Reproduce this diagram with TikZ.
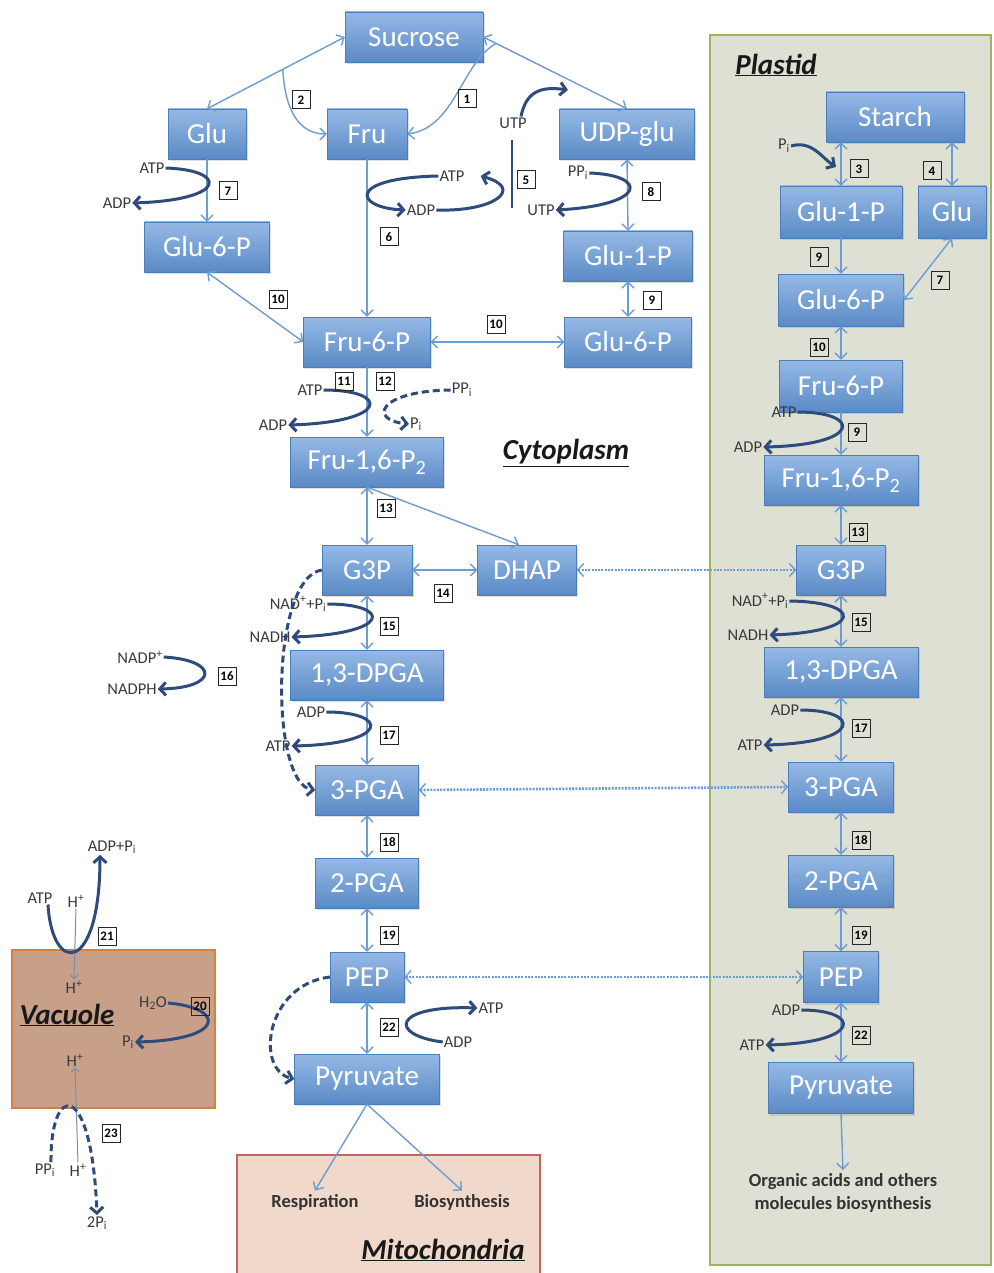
\documentclass[tikz,border=0pt]{standalone}
\usepackage{fontspec}
\setmainfont{Carlito}
\usetikzlibrary{arrows.meta, calc, shadows}
\definecolor{boxtop}{HTML}{95B9E5}
\definecolor{boxbot}{HTML}{5A8AC6}
\definecolor{boxline}{HTML}{4A7EBB}
\definecolor{flowblue}{HTML}{6C9CD3}
\definecolor{navy}{HTML}{2E4B7B}
\definecolor{labgrey}{HTML}{3A3A3A}
\definecolor{plastidfill}{HTML}{DDE0D3}
\definecolor{plastidline}{HTML}{9BB65E}
\definecolor{vacfill}{HTML}{C8A08A}
\definecolor{vacline}{HTML}{D4803E}
\definecolor{mitofill}{HTML}{F0D8CB}
\definecolor{mitoline}{HTML}{C06560}
\definecolor{hgrey}{HTML}{7A8FAE}

\tikzset{
  met/.style={draw=boxline, top color=boxtop, bottom color=boxbot, text=white,
    font=\fontsize{29}{32}\selectfont, minimum height=50pt, inner sep=0pt,
    drop shadow={opacity=0.25, shadow xshift=1.5pt, shadow yshift=-2pt}},
  lab/.style={font=\fontsize{16.5}{18}\selectfont, text=labgrey, inner sep=1pt},
  num/.style={draw=black!85, line width=1pt, font=\fontsize{13}{14}\selectfont\bfseries,
    minimum size=18pt, inner sep=0pt},
  flow/.style={draw=flowblue, line width=1.4pt},
  fwd/.style={flow, -{Straight Barb[length=6pt,width=12pt]}},
  both/.style={flow, {Straight Barb[length=6pt,width=12pt]}-{Straight Barb[length=6pt,width=12pt]}},
  share/.style={flow, line width=2.6pt, dash pattern=on 2pt off 1.3pt,
    {Straight Barb[length=6pt,width=13pt,line width=1.4pt]}-{Straight Barb[length=6pt,width=13pt,line width=1.4pt]}},
  cof/.style={draw=navy, line width=3pt, -{Straight Barb[length=6pt,width=13pt]}},
  cofd/.style={cof, dash pattern=on 7pt off 4pt},
  hplus/.style={draw=hgrey, line width=1pt, -{Straight Barb[length=4pt,width=8pt]}},
  region/.style={font=\fontsize{29}{32}\selectfont\bfseries\itshape, text=black!90},
  sink/.style={font=\fontsize{18.5}{23}\selectfont\bfseries, text=black!80, align=center}
}

\begin{document}
\begin{tikzpicture}[x=1pt, y=-1pt]
  \useasboundingbox (0,0) rectangle (993,1273);

  % compartments
  \draw[draw=plastidline, fill=plastidfill, line width=2pt] (710,35) rectangle (991,1265);
  \draw[draw=vacline, fill=vacfill, line width=1.5pt] (12,950) rectangle (215,1108);
  \draw[draw=mitoline, fill=mitofill, line width=1.2pt] (237,1155) rectangle (540,1280);

  \node[region] (plast) at (776,65) {\underline{Plastid}};
  \node[region] (cyto) at (566,453) {\underline{Cytoplasm}};
  \node[region] (vac) at (67,1015) {\underline{Vacuole}};
  \node[region] (mito) at (443,1250) {\underline{Mitochondria}};

  % cytoplasm metabolites
  \node[met, minimum width=138pt] (suc) at (414,37) {Sucrose};
  \node[met, minimum width=78pt] (gluc) at (207,134) {Glu};
  \node[met, minimum width=80pt] (fruc) at (367,134) {Fru};
  \node[met, minimum width=135pt] (udpg) at (627,134) {UDP-glu};
  \node[met, minimum width=125pt] (g6pl) at (207,247) {Glu-6-P};
  \node[met, minimum width=129pt] (g1pc) at (628,256) {Glu-1-P};
  \node[met, minimum width=127pt] (f6pc) at (367,342) {Fru-6-P};
  \node[met, minimum width=127pt] (g6pr) at (628,342) {Glu-6-P};
  \node[met, minimum width=153pt] (fbpc) at (367,462) {Fru-1,6-P\textsubscript{2}};
  \node[met, minimum width=90pt] (g3pc) at (367,570) {G3P};
  \node[met, minimum width=99pt] (dhap) at (527,570) {DHAP};
  \node[met, minimum width=153pt] (dpgc) at (367,675) {1,3-DPGA};
  \node[met, minimum width=103pt] (pga3c) at (367,790) {3-PGA};
  \node[met, minimum width=103pt] (pga2c) at (367,883) {2-PGA};
  \node[met, minimum width=74pt] (pepc) at (367,977) {PEP};
  \node[met, minimum width=145pt] (pyrc) at (367,1079) {Pyruvate};

  % plastid metabolites
  \node[met, minimum width=138pt] (starch) at (895,117) {Starch};
  \node[met, minimum width=122pt, minimum height=52pt] (g1pp) at (841,212) {Glu-1-P};
  \node[met, minimum width=68pt, minimum height=52pt] (glup) at (952,212) {Glu};
  \node[met, minimum width=125pt, minimum height=52pt] (g6pp) at (841,300) {Glu-6-P};
  \node[met, minimum width=123pt, minimum height=52pt] (f6pp) at (841,386) {Fru-6-P};
  \node[met, minimum width=154pt] (fbpp) at (841,480) {Fru-1,6-P\textsubscript{2}};
  \node[met, minimum width=89pt] (g3pp) at (841,570) {G3P};
  \node[met, minimum width=154pt] (dpgp) at (841,672) {1,3-DPGA};
  \node[met, minimum width=105pt] (pga3p) at (841,787) {3-PGA};
  \node[met, minimum width=105pt, minimum height=52pt] (pga2p) at (841,881) {2-PGA};
  \node[met, minimum width=75pt, minimum height=51pt] (pepp) at (841,977) {PEP};
  \node[met, minimum width=145pt, minimum height=51pt] (pyrp) at (841,1088) {Pyruvate};

  \node[sink] (resp) at (315,1202) {Respiration};
  \node[sink] (biosyn) at (462,1202) {Biosynthesis};
  \node[sink] (orgp) at (843,1193) {Organic acids and others\\molecules biosynthesis};

  % main flow
  \draw[both] (gluc.north) -- (suc.west);
  \draw[both] (suc.east) -- (udpg.north);
  \coordinate (r2s) at ($(gluc.north)!0.55!(suc.west)$);
  \draw[fwd] (r2s) .. controls (285,112) and (300,134) .. (fruc.west);
  \coordinate (r1s) at ($(suc.east)!0.09!(udpg.north)$);
  \draw[fwd] (r1s) .. controls (462,62) and (455,128) .. (fruc.east);
  \foreach \a/\b in {gluc/g6pl, fruc/f6pc, f6pc/fbpc}
    \draw[fwd] (\a.south) -- (\b.north);
  \foreach \a/\b in {udpg/g1pc, g1pc/g6pr, fbpc/g3pc, g3pc/dpgc, dpgc/pga3c, pga3c/pga2c, pga2c/pepc, pepc/pyrc}
    \draw[both] (\a.south) -- (\b.north);
  \draw[both] (g6pl.south) -- (f6pc.west);
  \draw[both] (f6pc.east) -- (g6pr.west);
  \draw[both] (g3pc.east) -- (dhap.west);
  \draw[fwd] (fbpc.south) -- ([xshift=-8pt]dhap.north);
  \draw[fwd] (pyrc.south) -- (resp.north);
  \draw[fwd] (pyrc.south) -- (biosyn.north);

  % plastid flow
  \draw[both] (g1pp.north |- starch.south) -- (g1pp.north);
  \draw[both] (glup.north |- starch.south) -- (glup.north);
  \draw[fwd] (g1pp.south) -- (g6pp.north);
  \draw[both] (glup.south) -- (g6pp.east);
  \draw[fwd] (f6pp.south) -- (fbpp.north);
  \foreach \a/\b in {g6pp/f6pp, fbpp/g3pp, g3pp/dpgp, dpgp/pga3p, pga3p/pga2p, pga2p/pepp, pepp/pyrp}
    \draw[both] (\a.south) -- (\b.north);
  \draw[fwd] (pyrp.south) -- (orgp.north);

  % exchange between cytoplasm and plastid
  \foreach \a/\b in {dhap/g3pp, pga3c/pga3p, pepc/pepp}
    \draw[share] (\a.east) -- (\b.west);

  % cofactors, cytoplasm
  \node[lab] (atp7) at (152,168) {ATP};
  \node[lab] (adp7) at (117,203) {ADP};
  \draw[cof] (atp7.east) .. controls (228,170) and (228,200) .. (adp7.east);

  \node[lab] (atp56) at (452,176) {ATP};
  \node[lab] (adp56) at (421,210) {ADP};
  \draw[cof] (atp56.west) .. controls (345,178) and (355,208) .. (adp56.west);
  \draw[cof] (adp56.east) .. controls (495,212) and (525,188) .. ([xshift=15pt]atp56.east);
  \coordinate (v5t) at (512,140);
  \coordinate (v5b) at (512,208);
  \draw[navy, line width=2.5pt] (v5t) -- (v5b);
  \node[lab] (utpa) at (513,123) {UTP};
  \coordinate (utpe) at (568,90);
  \draw[cof] ([xshift=8pt]utpa.north) .. controls (526,92) and (540,86) .. (utpe);

  \node[lab] (ppi8) at (578,173) {PP\textsubscript{i}};
  \node[lab] (utpb) at (541,210) {UTP};
  \draw[cof] (ppi8.east) .. controls (648,175) and (648,205) .. (utpb.east);

  \node[lab] (atp11) at (310,390) {ATP};
  \node[lab] (adp11) at (273,425) {ADP};
  \draw[cof] (atp11.east) .. controls (390,390) and (390,422) .. (adp11.east);
  \node[lab] (ppi12) at (462,390) {PP\textsubscript{i}};
  \node[lab] (pi12) at (416,424) {P\textsubscript{i}};
  \draw[cofd] (ppi12.west) .. controls (378,391) and (368,420) .. (pi12.west);

  \node[lab] (nad15) at (298,604) {NAD\textsuperscript{+}+P\textsubscript{i}};
  \node[lab] (nadh15) at (270,637) {NADH};
  \draw[cof] (nad15.east) .. controls (392,604) and (392,634) .. (nadh15.east);

  \node[lab] (nadp) at (140,657) {NADP\textsuperscript{+}};
  \node[lab] (nadph) at (132,689) {NADPH};
  \draw[cof] (nadp.east) .. controls (219,660) and (219,688) .. (nadph.east);

  \node[lab] (adp17) at (311,712) {ADP};
  \node[lab] (atp17) at (278,746) {ATP};
  \draw[cof] (adp17.east) .. controls (390,712) and (390,744) .. (atp17.east);

  \draw[cofd] (g3pc.west) .. controls (270,578) and (270,785) .. (pga3c.west);

  \node[lab] (atp22) at (491,1008) {ATP};
  \node[lab] (adp22) at (458,1042) {ADP};
  \draw[cof] (adp22.west) .. controls (388,1035) and (392,1005) .. (atp22.west);
  \draw[cofd] (pepc.west) .. controls (265,985) and (255,1070) .. (pyrc.west);

  % cofactors, plastid
  \node[lab] (pi3) at (784,146) {P\textsubscript{i}};
  \coordinate (r3e) at (836,167);
  \draw[cof] (pi3.east) .. controls (812,140) and (822,158) .. (r3e);

  \node[lab] (atp9p) at (784,412) {ATP};
  \node[lab] (adp9p) at (748,447) {ADP};
  \draw[cof] (atp9p.east) .. controls (862,412) and (862,445) .. (adp9p.east);

  \node[lab] (nad15p) at (760,601) {NAD\textsuperscript{+}+P\textsubscript{i}};
  \node[lab] (nadh15p) at (748,635) {NADH};
  \draw[cof] (nad15p.east) .. controls (864,602) and (864,632) .. (nadh15p.east);

  \node[lab] (adp17p) at (785,710) {ADP};
  \node[lab] (atp17p) at (750,745) {ATP};
  \draw[cof] (adp17p.east) .. controls (862,710) and (862,743) .. (atp17p.east);

  \node[lab] (adp22p) at (786,1010) {ADP};
  \node[lab] (atp22p) at (752,1045) {ATP};
  \draw[cof] (adp22p.east) .. controls (862,1010) and (862,1043) .. (atp22p.east);

  % vacuole pumps
  \node[lab] (atp21) at (40,898) {ATP};
  \node[lab] (hin21) at (76,901) {H\textsuperscript{+}};
  \node[lab] (adpp21) at (112,847) {ADP+P\textsubscript{i}};
  \node[lab] (hv1) at (74,987) {H\textsuperscript{+}};
  \draw[hplus] (hin21.south) -- (hv1.north);
  \draw[cof] ([xshift=8pt]atp21.south) .. controls (52,975) and (100,975) .. ([xshift=-12pt]adpp21.south);

  \node[lab] (h2o) at (153,1003) {H\textsubscript{2}O};
  \node[lab] (pi20) at (128,1042) {P\textsubscript{i}};
  \draw[cof] (h2o.east) .. controls (226,1008) and (226,1040) .. (pi20.east);

  \node[lab] (hv2) at (75,1060) {H\textsuperscript{+}};
  \node[lab] (hout23) at (78,1170) {H\textsuperscript{+}};
  \node[lab] (ppi23) at (45,1170) {PP\textsubscript{i}};
  \node[lab] (pi23) at (97,1223) {2P\textsubscript{i}};
  \draw[hplus] (hout23.north) -- (hv2.south);
  \draw[cofd] ([xshift=6pt]ppi23.north) .. controls (50,1082) and (92,1078) .. (pi23.north);

  % reaction numbers
  \foreach \n/\x/\y [count=\i] in {1/467/99, 2/301/100, 5/526/180, 6/389/237, 7/228/191,
      8/651/192, 9/652/300, 10/278/299, 10/496/324, 11/344/381, 12/385/381, 13/386/508,
      14/443/593, 15/389/626, 16/227/676, 17/389/735, 18/389/842, 19/389/935, 22/389/1027,
      21/107/936, 20/200/1006, 23/111/1133, 3/859/169, 4/932/171, 9/819/257, 7/940/280,
      10/819/347, 9/857/432, 13/858/532, 15/861/622, 17/861/728, 18/861/840, 19/861/935,
      22/861/1035}
    \node[num] (n\i) at (\x,\y) {\n};
\end{tikzpicture}
\end{document}
